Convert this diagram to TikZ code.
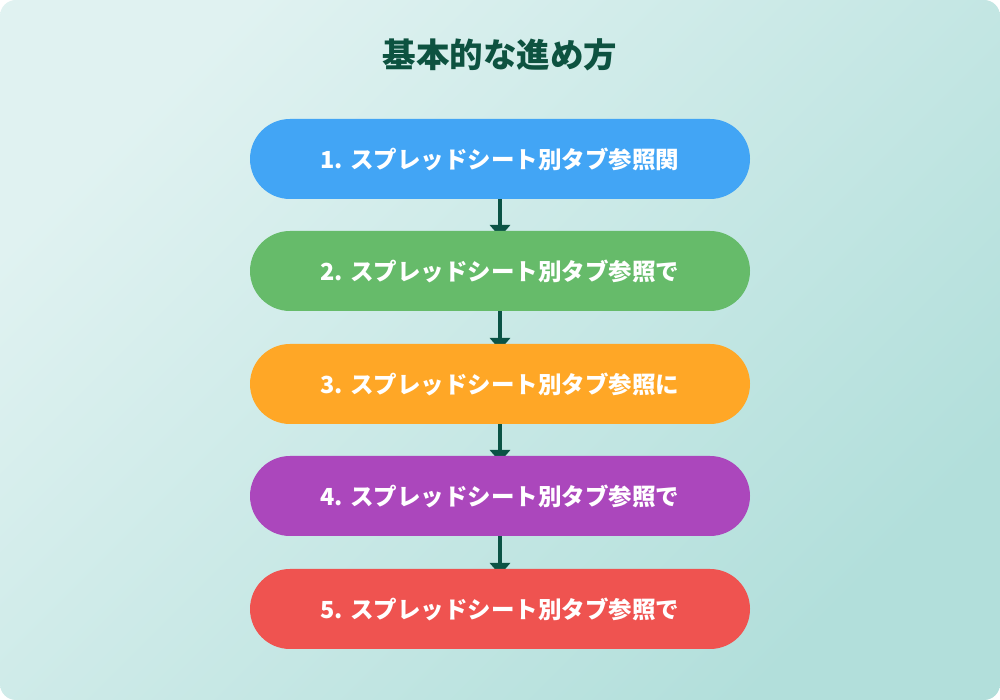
\documentclass[tikz,border=0pt]{standalone}
\usepackage{fontspec}
\usetikzlibrary{arrows.meta}
\newfontfamily\cjk{Noto Sans CJK JP}
\definecolor{bgA}{HTML}{E0F2F1}
\definecolor{bgB}{HTML}{B2DFDB}
\definecolor{titlec}{HTML}{0D5240}
\definecolor{arrowc}{HTML}{0B5345}
\definecolor{c1}{HTML}{42A5F5}
\definecolor{c2}{HTML}{66BB6A}
\definecolor{c3}{HTML}{FFA726}
\definecolor{c4}{HTML}{AB47BC}
\definecolor{c5}{HTML}{EF5350}
\tikzset{
  stepbox/.style={rounded corners=40pt, minimum width=500pt, minimum height=80pt,
    inner sep=0pt, text=white, font=\cjk\bfseries\fontsize{23.5}{28}\selectfont},
  conn/.style={draw=arrowc, line width=4pt, -{Triangle[width=20pt,length=12pt]}}
}
\begin{document}
\begin{tikzpicture}[x=1pt,y=1pt]
\useasboundingbox (0,0) rectangle (1000,700);
\fill[white] (0,0) rectangle (1000,700);
\shade[rounded corners=16pt, top color=bgA, bottom color=bgB, shading angle=45]
  (0,0) rectangle (1000,700);
\node[text=titlec, font=\cjk\bfseries\fontsize{33.5}{40}\selectfont] (title) at (500,645) {基本的な進め方};
\coordinate (t2) at (500,469);
\coordinate (t3) at (500,356);
\coordinate (t4) at (500,244);
\coordinate (t5) at (500,131);
\coordinate (b1) at (500,501);
\coordinate (b2) at (500,389);
\coordinate (b3) at (500,276);
\coordinate (b4) at (500,164);
\draw[conn] (b1) -- ([yshift=-6pt]t2);
\draw[conn] (b2) -- ([yshift=-6pt]t3);
\draw[conn] (b3) -- ([yshift=-6pt]t4);
\draw[conn] (b4) -- ([yshift=-6pt]t5);
\node[stepbox, fill=c1] (s1) at (500,541) {1. スプレッドシート別タブ参照関};
\node[stepbox, fill=c2] (s2) at (500,429) {2. スプレッドシート別タブ参照で};
\node[stepbox, fill=c3] (s3) at (500,316) {3. スプレッドシート別タブ参照に};
\node[stepbox, fill=c4] (s4) at (500,204) {4. スプレッドシート別タブ参照で};
\node[stepbox, fill=c5] (s5) at (500,91) {5. スプレッドシート別タブ参照で};
\end{tikzpicture}
\end{document}
